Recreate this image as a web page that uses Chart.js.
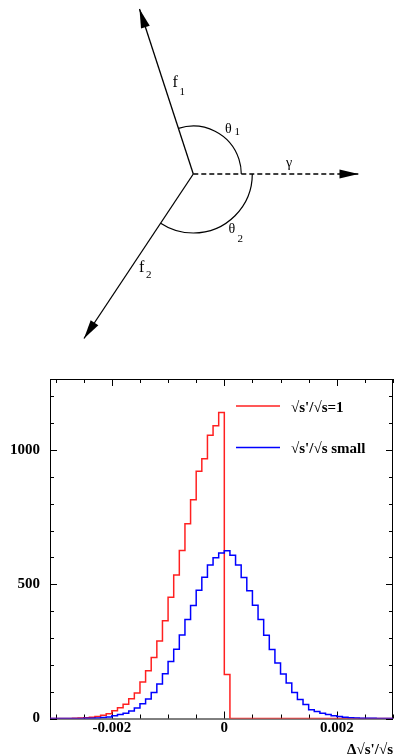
<!DOCTYPE html>
<html>
<head>
<meta charset="utf-8">
<script src="https://cdn.jsdelivr.net/npm/chart.js@4.4.1/dist/chart.umd.min.js"></script>
<style>
  html, body { margin: 0; padding: 0; background: #ffffff; }
  canvas { display: block; }
</style>
</head>
<body>
<canvas id="diagramChart" width="394" height="360"></canvas>
<canvas id="histChart" width="394" height="395"></canvas>
<script>
// Histogram binning: left edge of first bin, bin width
const binStart = -0.0031;
const binWidth = 0.0001;

// Counts per bin, first bin is [-0.0031, -0.0030]
const redCounts = [
  0, 0, 0, 0, 1, 2, 3, 5, 7, 12,
  18, 29, 40, 53, 74, 95, 136, 178, 227, 289,
  364, 452, 535, 626, 726, 815, 921, 968, 1055, 1091,
  1140, 164, 0, 0, 0, 0, 0, 0, 0, 0,
  0, 0, 0, 0, 0, 0, 0, 0, 0, 0,
  0, 0, 0, 0, 0, 0, 0, 0, 0, 0,
  0,
];
const blueCounts = [
  0, 0, 0, 0, 0, 0, 1, 1, 2, 4,
  6, 10, 15, 20, 28, 39, 55, 73, 97, 129,
  167, 212, 258, 311, 369, 421, 478, 526, 572, 599,
  617, 625, 608, 572, 525, 476, 422, 369, 310, 257,
  207, 166, 132, 97, 71, 52, 33, 26, 20, 15,
  10, 7, 5, 3, 2, 1, 1, 1, 0, 0,
  0,
];

// Axis ranges and labelled ticks
const xMin = -0.0031;
const xMax = 0.003;
const yMax = 1265;
const xLabelValues = [-0.002, 0, 0.002];
const yLabelValues = [0, 500, 1000];

const seriesLabels = ["\u221As'/\u221As=1", "\u221As'/\u221As small"];
const xTitle = "\u0394\u221As'/\u221As";

// Decay diagram geometry (pixels of the top panel)
const origin = [193.3, 174];
const f1Tip = [139.5, 9];
const f2Tip = [84, 338.5];
const gammaTip = [358.5, 174];
const theta1Radius = 48;
const theta2Radius = 59;

const serif = "'Liberation Serif', 'Times New Roman', serif";

document.addEventListener("DOMContentLoaded", function () {
  initializeDiagram();
  initializeHistogram();
});

function pt(p) {
  return { x: p[0], y: p[1] };
}

function initializeDiagram() {
  const ctx = document.getElementById("diagramChart");

  const diagramPlugin = {
    id: "diagramExtras",
    afterDatasetsDraw(chart) {
      const c = chart.ctx;
      const xs = chart.scales.x;
      const ys = chart.scales.y;
      const px = (p) => [xs.getPixelForValue(p[0]), ys.getPixelForValue(p[1])];
      const o = px(origin);

      c.save();
      c.fillStyle = "#000";
      c.strokeStyle = "#000";
      c.lineWidth = 1.2;

      // arrow heads
      [f1Tip, f2Tip, gammaTip].forEach((tip) => {
        const t = px(tip);
        const dx = t[0] - o[0];
        const dy = t[1] - o[1];
        const len = Math.hypot(dx, dy);
        const ux = dx / len;
        const uy = dy / len;
        const L = 19;
        const W = 4.6;
        c.beginPath();
        c.moveTo(t[0], t[1]);
        c.lineTo(t[0] - ux * L - uy * W, t[1] - uy * L + ux * W);
        c.lineTo(t[0] - ux * L + uy * W, t[1] - uy * L - ux * W);
        c.closePath();
        c.fill();
      });

      // angle arcs
      const f1 = px(f1Tip);
      const f2 = px(f2Tip);
      const a1 = Math.atan2(f1[1] - o[1], f1[0] - o[0]);
      const a2 = Math.atan2(f2[1] - o[1], f2[0] - o[0]);
      c.beginPath();
      c.arc(o[0], o[1], theta1Radius, a1, 0, false);
      c.stroke();
      c.beginPath();
      c.arc(o[0], o[1], theta2Radius, 0, a2, false);
      c.stroke();

      // labels
      c.textBaseline = "alphabetic";
      c.textAlign = "left";
      const big = "16px " + serif;
      const mid = "14px " + serif;
      const small = "11px " + serif;
      c.font = big;
      c.fillText("f", 172.5, 87);
      c.fillText("f", 139, 271.5);
      c.font = mid;
      c.fillText("\u03B8", 225, 132.5);
      c.fillText("\u03B8", 228.5, 233);
      c.fillText("\u03B3", 286, 167);
      c.font = small;
      c.fillText("1", 179.5, 95);
      c.fillText("2", 146, 277.5);
      c.fillText("1", 234.5, 135);
      c.fillText("2", 237.5, 242);
      c.restore();
    },
  };

  new Chart(ctx, {
    type: "scatter",
    data: {
      datasets: [
        {
          data: [pt(origin), pt(f1Tip)],
          showLine: true,
          borderColor: "#000",
          borderWidth: 1.3,
          pointRadius: 0,
        },
        {
          data: [pt(origin), pt(f2Tip)],
          showLine: true,
          borderColor: "#000",
          borderWidth: 1.3,
          pointRadius: 0,
        },
        {
          data: [pt(origin), pt(gammaTip)],
          showLine: true,
          borderColor: "#000",
          borderWidth: 1.3,
          borderDash: [5, 3],
          pointRadius: 0,
        },
      ],
    },
    options: {
      responsive: false,
      animation: false,
      layout: { padding: 0 },
      plugins: { legend: { display: false }, tooltip: { enabled: false } },
      scales: {
        x: { type: "linear", min: 0, max: 394, display: false },
        y: { type: "linear", min: 0, max: 360, reverse: true, display: false },
      },
    },
    plugins: [diagramPlugin],
  });
}

function histPoints(counts) {
  const pts = counts.map((c, i) => ({ x: binStart + i * binWidth, y: c }));
  pts.push({ x: binStart + counts.length * binWidth, y: counts[counts.length - 1] });
  return pts;
}

function isLabelled(v, list) {
  return list.some((l) => Math.abs(v - l) < 1e-9);
}

function initializeHistogram() {
  const ctx = document.getElementById("histChart");

  const framePlugin = {
    id: "frameAndLegend",
    beforeDatasetsDraw(chart) {
      const c = chart.ctx;
      const a = chart.chartArea;
      const xs = chart.scales.x;
      const ys = chart.scales.y;
      c.save();
      c.strokeStyle = "#000";
      c.lineWidth = 1;
      c.strokeRect(a.left + 0.5, a.top + 0.5, a.right - a.left - 1, a.bottom - a.top);

      c.beginPath();
      ys.ticks.forEach((t) => {
        const y = Math.round(ys.getPixelForValue(t.value)) + 0.5;
        const len = isLabelled(t.value, [0, 500, 1000]) ? 7 : 4;
        c.moveTo(a.left, y);
        c.lineTo(a.left + len, y);
        c.moveTo(a.right, y);
        c.lineTo(a.right - len, y);
      });
      xs.ticks.forEach((t) => {
        const x = Math.round(xs.getPixelForValue(t.value)) + 0.5;
        const len = isLabelled(t.value, xLabelValues) ? 7 : 4;
        c.moveTo(x, a.bottom);
        c.lineTo(x, a.bottom - len);
        c.moveTo(x, a.top);
        c.lineTo(x, a.top + len);
      });
      c.stroke();
      c.restore();
    },
    afterDatasetsDraw(chart) {
      const c = chart.ctx;
      const a = chart.chartArea;
      c.save();
      c.lineWidth = 1.5;
      const colors = ["#ff2020", "#0000ff"];
      const rows = [46, 87.5];
      rows.forEach((y, i) => {
        c.strokeStyle = colors[i];
        c.beginPath();
        c.moveTo(236, y);
        c.lineTo(280, y);
        c.stroke();
      });
      c.fillStyle = "#000";
      c.font = "bold 15px " + serif;
      c.textAlign = "left";
      c.textBaseline = "alphabetic";
      c.fillText(seriesLabels[0], 291, 51.5);
      c.fillText(seriesLabels[1], 291, 93);
      c.textAlign = "right";
      c.fillText(xTitle, a.right, 394);
      c.restore();
    },
  };

  new Chart(ctx, {
    type: "line",
    data: {
      datasets: [
        {
          label: seriesLabels[1],
          data: histPoints(blueCounts),
          borderColor: "#0000ff",
          borderWidth: 1.5,
          pointRadius: 0,
          fill: false,
          stepped: "before",
        },
        {
          label: seriesLabels[0],
          data: histPoints(redCounts),
          borderColor: "#ff2020",
          borderWidth: 1.5,
          pointRadius: 0,
          fill: false,
          stepped: "before",
        },
      ],
    },
    options: {
      responsive: false,
      animation: false,
      layout: { padding: { top: 15, right: 1, left: 0, bottom: 0 } },
      plugins: { legend: { display: false }, tooltip: { enabled: false } },
      scales: {
        x: {
          type: "linear",
          min: xMin,
          max: xMax,
          afterFit: (s) => { s.height = 36.5; },
          grid: { display: false, drawTicks: false },
          border: { display: false },
          ticks: {
            stepSize: 0.0005,
            includeBounds: false,
            autoSkip: false,
            maxRotation: 0,
            padding: 1,
            color: "#000",
            font: { family: serif, size: 15, weight: "bold" },
            callback: function (value) {
              if (!isLabelled(value, xLabelValues)) return "";
              return String(Math.round(value * 1000) / 1000);
            },
          },
        },
        y: {
          type: "linear",
          min: 0,
          max: yMax,
          afterFit: (s) => { s.width = 50; },
          grid: { display: false, drawTicks: false },
          border: { display: false },
          ticks: {
            stepSize: 100,
            includeBounds: false,
            autoSkip: false,
            padding: 10,
            color: "#000",
            font: { family: serif, size: 15, weight: "bold" },
            callback: function (value) {
              return isLabelled(value, yLabelValues) ? String(value) : "";
            },
          },
        },
      },
    },
    plugins: [framePlugin],
  });
}
</script>
</body>
</html>
